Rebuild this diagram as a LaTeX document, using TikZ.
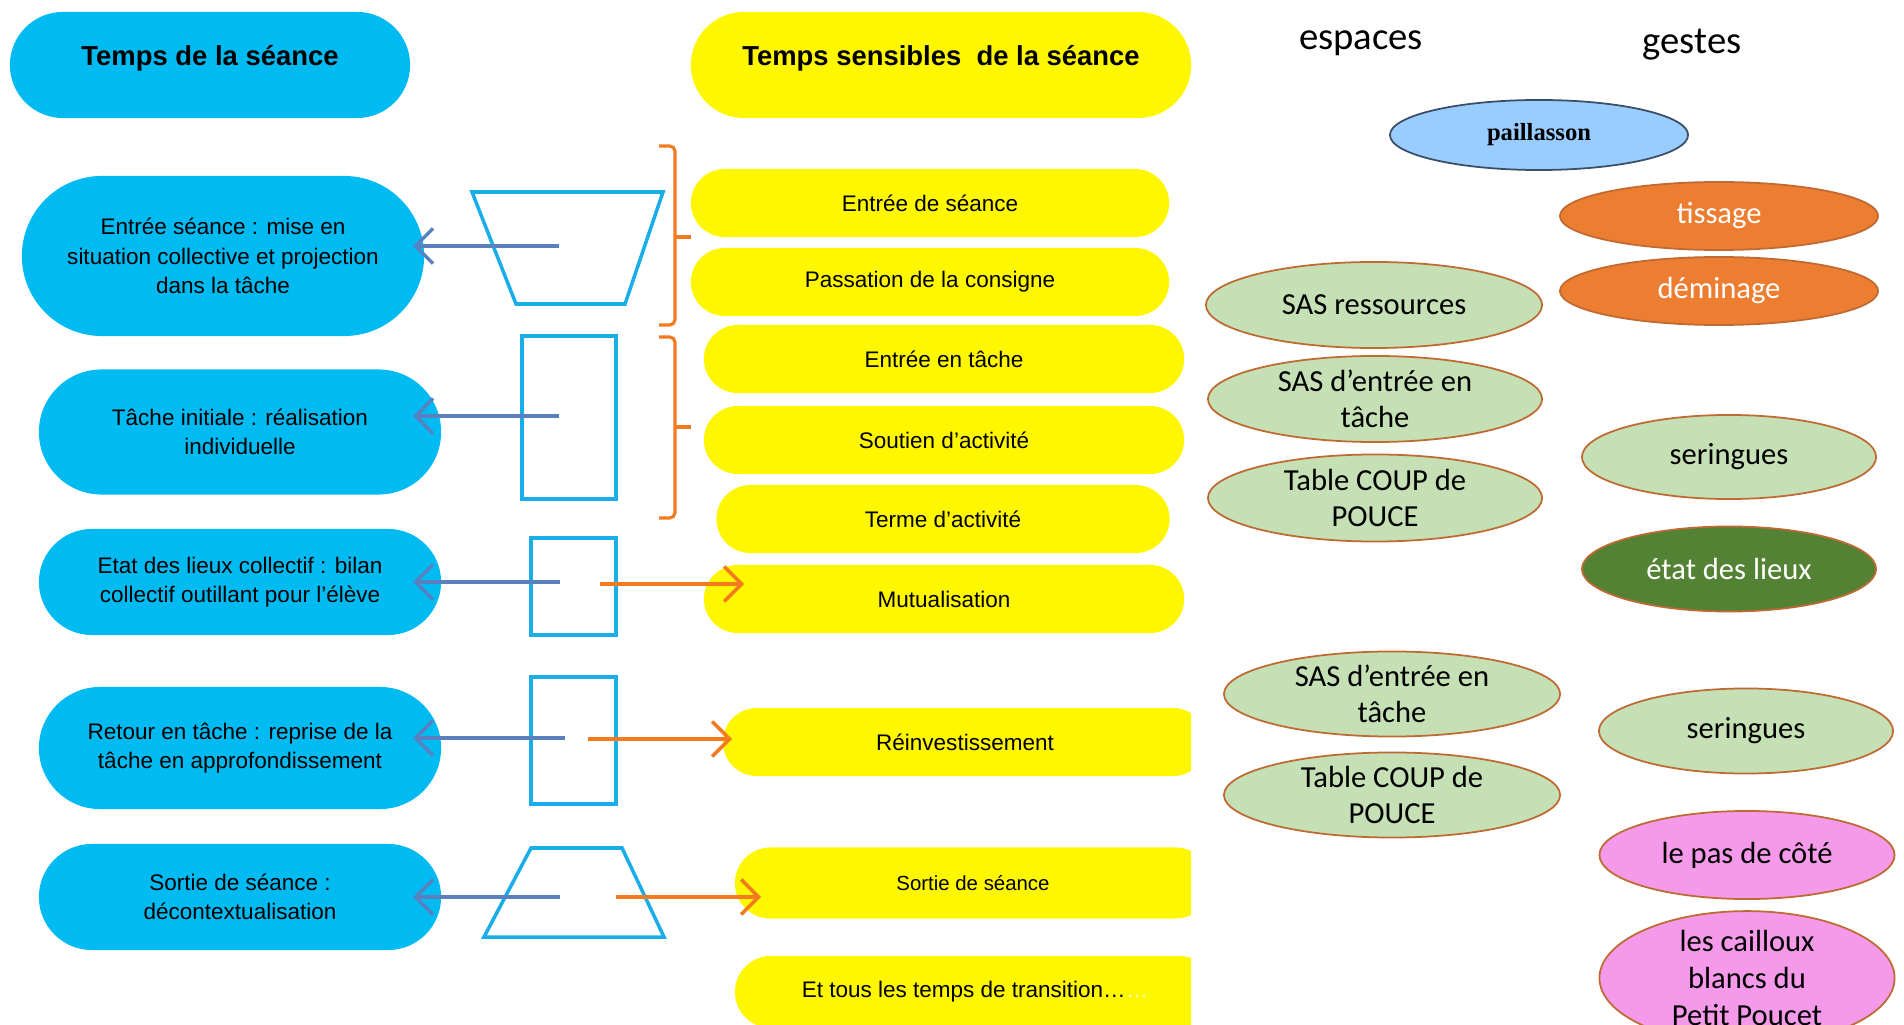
\documentclass[tikz,border=0pt]{standalone}
\usepackage{fontspec}
\setmainfont{Liberation Sans}
\newfontfamily\calibri{Carlito}
\newfontfamily\timesfont{Liberation Serif}
\usetikzlibrary{shapes.misc,shapes.geometric,arrows.meta}

\definecolor{pillblue}{HTML}{00BAF2}
\definecolor{pillyellow}{HTML}{FFF700}
\definecolor{frameblue}{HTML}{19AEEA}
\definecolor{arrowblue}{HTML}{5B80C0}
\definecolor{arroworange}{HTML}{F47A20}
\definecolor{sasgreen}{HTML}{C5E0B4}
\definecolor{rimbrown}{HTML}{BE6A32}
\definecolor{gestorange}{HTML}{ED7D31}
\definecolor{darkgreen}{HTML}{548235}
\definecolor{pinkgeste}{HTML}{F59AEA}
\definecolor{pailblue}{HTML}{99CCFF}
\definecolor{pailrim}{HTML}{3A4E66}

\begin{document}
\begin{tikzpicture}[x=0.01cm,y=-0.01cm,
    bluepill/.style={rounded rectangle, fill=pillblue, minimum width=4.02cm,
        inner sep=0pt, align=center, font=\fontsize{6.4}{8.3}\selectfont},
    yellowpill/.style={rounded rectangle, fill=pillyellow, minimum height=0.68cm,
        inner sep=0pt, align=center, font=\fontsize{6.4}{8}\selectfont},
    frame/.style={draw=frameblue, line width=1pt},
    backarrow/.style={draw=arrowblue, line width=1pt, -{Straight Barb[length=5pt,width=10pt]}},
    outarrow/.style={draw=arroworange, line width=1pt, -{Straight Barb[length=5pt,width=10pt]}},
    bracket/.style={draw=arroworange, line width=0.9pt, rounded corners=1.5pt},
    lieu/.style={ellipse, draw=rimbrown, line width=0.5pt, inner sep=0pt, align=center,
        font=\calibri\fontsize{8.7}{10.4}\selectfont},
    titlefont/.style={font=\bfseries\fontsize{7.8}{9}\selectfont, text depth=5.5pt}]
    \clip (0,0) rectangle (1904,1025);

    % colonne bleue
    \node[bluepill, titlefont, minimum width=4cm, minimum height=1.06cm] (tps) at (210,65) {Temps de la séance};
    \node[bluepill, minimum height=1.6cm] (ent) at (223,256) {Entrée séance : mise en\\situation collective et projection\\dans la tâche};
    \node[bluepill, minimum height=1.25cm] (ini) at (240,432) {Tâche initiale : réalisation\\individuelle};
    \node[bluepill, minimum height=1.06cm] (etl) at (240,582) {Etat des lieux collectif : bilan\\collectif outillant pour l’élève};
    \node[bluepill, minimum height=1.22cm] (ret) at (240,748) {Retour en tâche : reprise de la\\tâche en approfondissement};
    \node[bluepill, minimum height=1.06cm] (sor) at (240,897) {Sortie de séance :\\décontextualisation};

    % colonne jaune
    \begin{scope}
        \clip (0,0) rectangle (1191,1025);
        \node[yellowpill, titlefont, minimum width=5cm, minimum height=1.06cm] (tss) at (941,65) {Temps sensibles\ \ de la séance};
        \foreach \n/\x/\y/\w/\t in {
            ys1/930/203/4.78/{Entrée de séance},
            ys2/930/282/4.78/{Passation de la consigne},
            ys3/944/359/4.80/{Entrée en tâche},
            ys4/944/440/4.80/{Soutien d’activité},
            ys5/943/519/4.53/{Terme d’activité},
            ys6/944/599/4.80/{Mutualisation},
            ys7/965/742/4.84/{Réinvestissement}}
            \node[yellowpill, minimum width=\w cm] (\n) at (\x,\y) {\t};
        \node[yellowpill, minimum width=4.76cm, minimum height=0.71cm, font=\fontsize{5.8}{7}\selectfont] (ys8) at (973,883) {Sortie de séance};
        \node[yellowpill, minimum width=4.8cm, minimum height=0.72cm] (ys9) at (975,992) {Et tous les temps de transition…{\color{pillyellow!30!white}…}};
    \end{scope}

    % formes
    \draw[frame] (472,192) -- (663,192) -- (625,304) -- (516,304) -- cycle;
    \draw[frame] (522,336) rectangle (616,499);
    \draw[frame] (531,538) rectangle (616,635);
    \draw[frame] (531,677) rectangle (616,804);
    \draw[frame] (531,848) -- (622,848) -- (664,937) -- (484,937) -- cycle;

    % accolades
    \draw[bracket] (659,146) -- (675,146) -- (675,325) -- (659,325);
    \draw[bracket] (675,237) -- (691,237);
    \draw[bracket] (659,337) -- (675,337) -- (675,518) -- (659,518);
    \draw[bracket] (675,427) -- (691,427);

    % fleches
    \coordinate (back) at (413,0);
    \coordinate (f1) at (559,246);
    \coordinate (f2) at (559,416);
    \coordinate (f3) at (560,582);
    \coordinate (f4) at (565,738);
    \coordinate (f5) at (560,897);
    \foreach \f in {f1,f2,f3,f4,f5}
        \draw[backarrow] (\f) -- (\f -| back);
    \coordinate (m1) at (600,584);
    \coordinate (m2) at (588,739);
    \coordinate (m3) at (616,897);
    \draw[outarrow, shorten >=-0.41cm] (m1) -- (m1 -| ys6.west);
    \draw[outarrow, shorten >=-0.1cm] (m2) -- (m2 -| ys7.west);
    \draw[outarrow, shorten >=-0.27cm] (m3) -- (m3 -| ys8.west);

    % espaces et gestes
    \node[font=\calibri\fontsize{11}{13}\selectfont] (esp) at (1361,43) {espaces};
    \node[font=\calibri\fontsize{11}{13}\selectfont] (ges) at (1692,45) {gestes};
    \node[lieu, fill=pailblue, draw=pailrim, minimum width=2.98cm, minimum height=0.7cm,
        font=\timesfont\bfseries\fontsize{7}{8}\selectfont] (pai) at (1539,135) {paillasson};
    \node[lieu, fill=gestorange, text=white, minimum width=3.18cm, minimum height=0.68cm] (tis) at (1719,216) {tissage};
    \node[lieu, fill=gestorange, text=white, minimum width=3.18cm, minimum height=0.68cm] (dem) at (1719,291) {déminage};
    \node[lieu, fill=sasgreen, minimum width=3.36cm, minimum height=0.86cm] (sas) at (1374,305) {SAS ressources};
    \node[lieu, fill=sasgreen, minimum width=3.34cm, minimum height=0.86cm] (sae1) at (1375,399) {SAS d’entrée en\\tâche};
    \node[lieu, fill=sasgreen, minimum width=3.34cm, minimum height=0.87cm] (cou1) at (1375,498) {Table COUP de\\POUCE};
    \node[lieu, fill=sasgreen, minimum width=2.94cm, minimum height=0.84cm] (ser1) at (1729,457) {seringues};
    \node[lieu, fill=darkgreen, text=white, minimum width=2.94cm, minimum height=0.85cm] (edl) at (1729,569) {état des lieux};
    \node[lieu, fill=sasgreen, minimum width=3.36cm, minimum height=0.85cm] (sae2) at (1392,694) {SAS d’entrée en\\tâche};
    \node[lieu, fill=sasgreen, minimum width=3.36cm, minimum height=0.85cm] (cou2) at (1392,795) {Table COUP de\\POUCE};
    \node[lieu, fill=sasgreen, minimum width=2.94cm, minimum height=0.85cm] (ser2) at (1746,731) {seringues};
    \node[lieu, fill=pinkgeste, minimum width=2.95cm, minimum height=0.88cm] (pas) at (1747,855) {le pas de côté};
    \node[lieu, fill=pinkgeste, minimum width=2.95cm, minimum height=1.15cm] (cai) at (1747,978) {les cailloux\\blancs du\\Petit Poucet};
\end{tikzpicture}
\end{document}
